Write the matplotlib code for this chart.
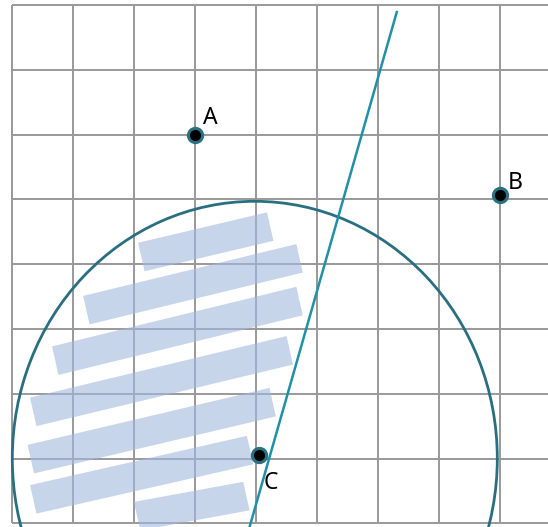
import numpy as np
import matplotlib
matplotlib.use('Agg')
import matplotlib.pyplot as plt
from matplotlib.patches import Circle, Polygon

# points (grid units)
point_names = ['A', 'B', 'C']
point_x = [3.0, 8.0, 4.05]
point_y = [6.0, 5.06, 1.06]

# circle and straight line
circle_center = (3.98, 1.0)
circle_radius = 3.97
line_x = [6.31, 3.76]
line_y = [7.91, -0.5]

# shaded bands: top-left / top-right corners, common thickness
band_tl = [(2.07, 4.33), (1.17, 3.51), (0.66, 2.73), (0.30, 1.94),
           (0.26, 1.21), (0.30, 0.59), (2.00, 0.33)]
band_tr = [(4.18, 4.80), (4.66, 4.31), (4.66, 3.65), (4.50, 2.89),
           (4.22, 2.09), (3.85, 1.35), (3.79, 0.64)]
band_off = (0.105, -0.44)

fig = plt.figure(figsize=(5.48, 5.27), dpi=100)
ax = fig.add_axes([0, 0, 1, 1])
ax.set_xlim(-0.1915, 8.78)
ax.set_ylim(-0.057, 8.077)
ax.axis('off')

# grid #
ax.vlines(np.arange(0, 9), 0, 8, color='#999999', lw=1.4, zorder=1)
ax.hlines(np.arange(0, 9), 0, 9.5, color='#999999', lw=1.4, zorder=1)

# bands #
for tl, tr in zip(band_tl, band_tr):
    corners = [tl, tr, (tr[0] + band_off[0], tr[1] + band_off[1]),
               (tl[0] + band_off[0], tl[1] + band_off[1])]
    ax.add_patch(Polygon(corners, closed=True, facecolor='#a3b9df', edgecolor='none',
                         alpha=0.6, zorder=2))

ax.add_patch(Circle(circle_center, circle_radius, fill=False, edgecolor='#296f7f',
                    lw=2.0, zorder=3))
ax.plot(line_x, line_y, color='#2090a6', lw=1.8, zorder=3, solid_capstyle='butt')

ax.scatter(point_x, point_y, s=105, c='black', edgecolors='#2a7282', linewidths=2.2, zorder=5)

offsets = {'A': (5.5, 3.0, 'left', 'bottom'),
           'B': (5.0, 0.5, 'left', 'bottom'),
           'C': (3.5, -12.0, 'left', 'top')}
for name, x, y in zip(point_names, point_x, point_y):
    dx, dy, ha, va = offsets[name]
    ax.annotate(name, (x, y), xytext=(dx, dy), textcoords='offset points',
                ha=ha, va=va, fontsize=16.5, family='Noto Sans', color='black', zorder=6)

plt.savefig('out.png', dpi=100)
